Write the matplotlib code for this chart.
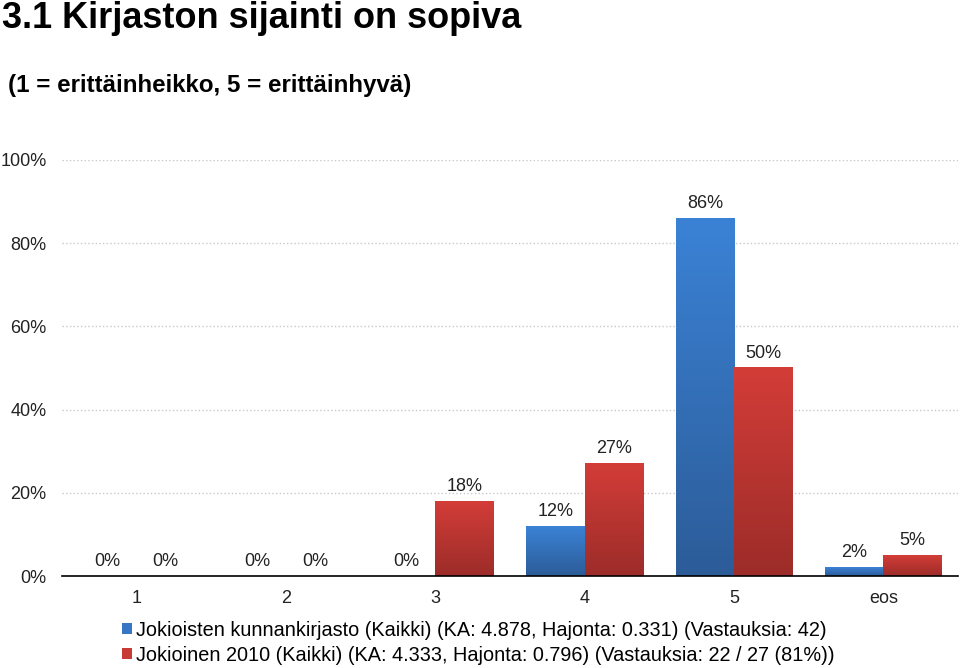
import numpy as np
import matplotlib.pyplot as plt
from matplotlib.colors import LinearSegmentedColormap

plt.rcParams['font.family'] = ['Liberation Sans', 'DejaVu Sans']

# Data
categories = ['1', '2', '3', '4', '5', 'eos']
kunnankirjasto = [0, 0, 0, 12, 86, 2]
jokioinen2010 = [0, 0, 18, 27, 50, 5]
series_names = ['Jokioisten kunnankirjasto (Kaikki) (KA: 4.878, Hajonta: 0.331) (Vastauksia: 42)',
                'Jokioinen 2010 (Kaikki) (KA: 4.333, Hajonta: 0.796) (Vastauksia: 22 / 27 (81%))']
yticks = [0, 20, 40, 60, 80, 100]

fig = plt.figure(figsize=(9.6, 6.68), dpi=100)
ax = fig.add_axes([0.0646, 0.1377, 0.9334, 0.6228])

x = np.arange(len(categories))
w = 0.39

# Gradient fill for each bar, darker towards the bottom
def gradient_bars(bars, top, bottom):
    cmap = LinearSegmentedColormap.from_list('g', [bottom, top])
    grad = np.linspace(0, 1, 256).reshape(-1, 1)
    for b in bars:
        h = b.get_height()
        if h <= 0:
            continue
        x0 = b.get_x()
        ax.imshow(grad, cmap=cmap, origin='lower', aspect='auto',
                  extent=(x0, x0 + b.get_width(), 0, h), zorder=3)

b1 = ax.bar(x - w / 2, kunnankirjasto, w, color='#3676c4', zorder=2, label=series_names[0])
b2 = ax.bar(x + w / 2, jokioinen2010, w, color='#c83a36', zorder=2, label=series_names[1])
gradient_bars(b1, '#3b82d6', '#2c5c98')
gradient_bars(b2, '#d33d38', '#9c2c29')

for bars, vals in [(b1, kunnankirjasto), (b2, jokioinen2010)]:
    for b, v in zip(bars, vals):
        ax.text(b.get_x() + b.get_width() / 2, v + 1.5, f'{v}%', ha='center', va='bottom',
                fontsize=13, color='#222222')

ax.set_xlim(-0.5, len(categories) - 0.5)
ax.set_ylim(0, 100)
ax.set_yticks(yticks)
ax.set_yticklabels([f'{t}%' for t in yticks])
ax.set_xticks(x)
ax.set_xticklabels(categories)
ax.tick_params(axis='both', length=0, labelsize=13, labelcolor='#222222')
ax.tick_params(axis='x', pad=10)
ax.tick_params(axis='y', pad=11)
for s in ['left', 'right', 'top']:
    ax.spines[s].set_visible(False)
ax.spines['bottom'].set_color('black')
ax.spines['bottom'].set_linewidth(1.2)
ax.spines['bottom'].set_zorder(5)
ax.yaxis.grid(True, linestyle=':', color='#c8c8c8', linewidth=1)
ax.set_axisbelow(True)

fig.text(0.002, 0.973, '3.1 Kirjaston sijainti on sopiva', fontsize=26, fontweight='bold', va='center')
fig.text(0.008, 0.872, '(1 = erittäinheikko, 5 = erittäinhyvä)', fontsize=17.4, fontweight='bold', va='center')

fig.legend(handles=[b1, b2], labels=series_names, loc='upper left', bbox_to_anchor=(0.127, 0.071),
           bbox_transform=fig.transFigure, frameon=False, fontsize=14.3, handlelength=0.5,
           handleheight=0.5, handletextpad=0.2, labelspacing=0.3, borderpad=0, borderaxespad=0)

fig.savefig('out.png', dpi=100)
